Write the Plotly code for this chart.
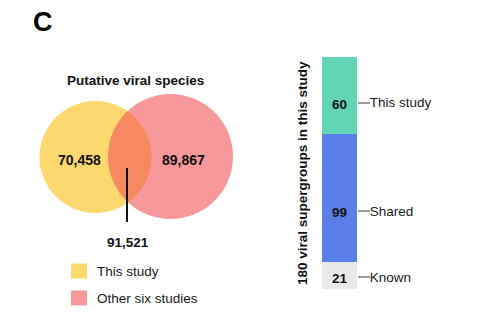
import plotly.graph_objects as go

# Venn counts of putative viral species
venn_sets = ["This study", "Other six studies"]
venn_unique = [70458, 89867]
venn_shared = 91521
venn_colors = ["#FDD86F", "#F15557"]

# Stacked composition of viral supergroups (bottom to top)
groups = ["Known", "Shared", "This study"]
group_counts = [21, 99, 60]
group_colors = ["#E9E9E9", "#5B7FE8", "#62D6B4"]

FONT = "Arial, Liberation Sans, sans-serif"
W, H = 490, 327

fig = go.Figure()

# stacked bar on its own narrow axis
for name, n, col in zip(groups, group_counts, group_colors):
    fig.add_trace(go.Bar(
        x=[0], y=[n], name=name, width=1,
        marker=dict(color=col, line=dict(width=0)),
        xaxis="x2", yaxis="y2", showlegend=False, hoverinfo="skip",
    ))

total = sum(group_counts)
label_pos = [9, 60.5, 144.5]  # where each group label sits on the bar

fig.update_layout(
    width=W, height=H,
    margin=dict(l=0, r=0, t=0, b=0),
    paper_bgcolor="white", plot_bgcolor="rgba(0,0,0,0)",
    barmode="stack", bargap=0,
    font=dict(family=FONT, color="#111111"),
    # pixel-like canvas for the Venn diagram and free text
    xaxis=dict(domain=[0, 1], range=[0, W], visible=False, fixedrange=True),
    yaxis=dict(domain=[0, 1], range=[H, 0], visible=False, fixedrange=True),
    xaxis2=dict(domain=[322 / W, 357 / W], range=[-0.5, 0.5], anchor="y2",
                visible=False, fixedrange=True),
    yaxis2=dict(domain=[1 - 289 / H, 1 - 57 / H], range=[0, total], anchor="x2",
                side="right", showgrid=False, zeroline=False, showline=False,
                ticks="outside", ticklen=12, tickwidth=2, tickcolor="#9A9A9A",
                tickvals=label_pos, ticktext=groups, ticklabelstandoff=-3,
                tickfont=dict(size=13.5, color="#1a1a1a", family=FONT),
                fixedrange=True),
)

shapes = []
annotations = []

# Venn circles
cx = [95.5, 170.5]
cy = [157, 156.5]
rr = [56, 62.5]
opac = [1.0, 0.6]
for x, y, r, c, o in zip(cx, cy, rr, venn_colors, opac):
    shapes.append(dict(type="circle", xref="x", yref="y",
                       x0=x - r, x1=x + r, y0=y - r, y1=y + r,
                       fillcolor=c, opacity=o, line=dict(width=0), layer="below"))

# pointer from overlap to its count
shapes.append(dict(type="line", xref="x", yref="y", x0=127, x1=127, y0=168, y1=222,
                   line=dict(color="#111111", width=2)))

# legend swatches
leg_y = [271, 298]
for y, c, o in zip(leg_y, venn_colors, opac):
    shapes.append(dict(type="rect", xref="x", yref="y", x0=71, x1=87, y0=y - 7.5, y1=y + 7.5,
                       fillcolor=c, opacity=o, line=dict(width=0)))

for y, name in zip(leg_y, venn_sets):
    annotations.append(dict(x=95, y=y, xref="x", yref="y", text=name, showarrow=False,
                            xanchor="left", yanchor="middle",
                            font=dict(size=13.5, color="#1a1a1a")))

# panel letter and title
annotations.append(dict(x=31, y=22, xref="x", yref="y", text="<b>C</b>", showarrow=False,
                        xanchor="left", yanchor="middle", font=dict(size=27, color="black")))
annotations.append(dict(x=135, y=80, xref="x", yref="y", text="<b>Putative viral species</b>",
                        showarrow=False, xanchor="center", yanchor="middle",
                        font=dict(size=13.5, color="#111111")))

# Venn counts
for x, v in zip([79, 183], venn_unique):
    annotations.append(dict(x=x, y=160, xref="x", yref="y", text=f"<b>{v:,}</b>",
                            showarrow=False, xanchor="center", yanchor="middle",
                            font=dict(size=14, color="#111111")))
annotations.append(dict(x=128, y=242, xref="x", yref="y", text=f"<b>{venn_shared:,}</b>",
                        showarrow=False, xanchor="center", yanchor="middle",
                        font=dict(size=13.5, color="#111111")))

# counts inside the stacked bar
for pos, n in zip(label_pos, group_counts):
    annotations.append(dict(x=0, y=pos - 1, xref="x2", yref="y2", text=f"<b>{n}</b>",
                            showarrow=False, xanchor="center", yanchor="middle",
                            font=dict(size=13.5, color="#111111")))

# vertical axis title of the bar
annotations.append(dict(x=302, y=173, xref="x", yref="y",
                        text=f"<b>{total} viral supergroups in this study</b>",
                        textangle=-90, showarrow=False, xanchor="center", yanchor="middle",
                        font=dict(size=13.5, color="#111111")))

fig.update_layout(shapes=shapes, annotations=annotations)

fig.write_html("out.html")
